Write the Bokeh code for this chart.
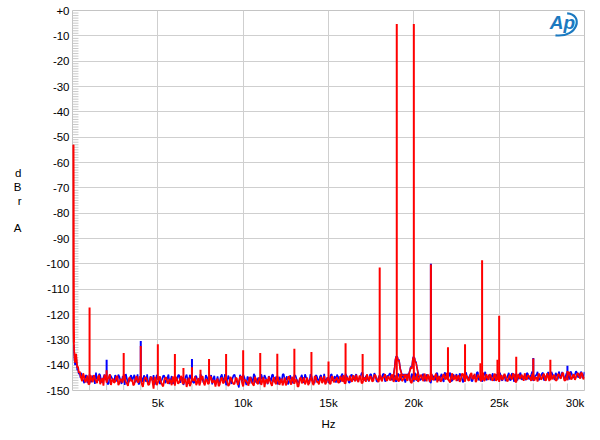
import numpy as np
from bokeh.plotting import figure
from bokeh.models import FixedTicker, Range1d, Label
from bokeh.embed import file_html
from bokeh.resources import INLINE

# ---------------- data ----------------
x_tick_vals = [5000, 10000, 15000, 20000, 25000, 30000]
x_tick_labels = ["5k", "10k", "15k", "20k", "25k", "30k"]
x_minor_vals = [v for v in range(1000, 30000, 1000) if v % 5000 != 0]
y_tick_vals = list(range(-150, 1, 10))
y_tick_labels = ["+0" if v == 0 else str(v) for v in y_tick_vals]
y_minor_vals = [v for v in range(-150, 0) if v % 10 != 0]

# low-frequency rise (Hz, dBr)
lf_freq = [45, 55, 65, 80, 95, 120, 150, 180, 210, 240, 280, 320, 370, 420, 470]
red_lf = [-53, -100, -125, -131, -134, -137, -139, -136, -135.5, -138, -141, -140.5, -143, -142.5, -144]
blue_lf = [-53, -101, -126, -132, -135, -138, -140, -137, -136, -139, -142, -141.5, -143.5, -143, -145]

# noise floor readings, 500 Hz .. 30 kHz (main points) ...
red_floor = [
    -145.0, -143.2, -146.8, -144.1, -147.3, -145.6, -143.9, -146.2,
    -144.6, -147.5, -145.1, -143.8, -146.9, -144.7, -147.8, -145.3,
    -146.4, -144.2, -147.1, -145.8, -143.7, -146.6, -148.2, -144.9,
    -145.7, -147.4, -144.3, -146.8, -145.2, -148.6, -144.8, -146.1,
    -147.6, -144.6, -149.3, -145.4, -146.9, -144.4, -147.7, -145.9,
    -144.9, -147.2, -146.3, -144.5, -148.1, -145.7, -146.8, -144.2,
    -147.4, -145.5, -146.7, -148.3, -144.7, -146.2, -147.9, -145.1,
    -146.6, -144.4, -148.0, -145.8, -147.1, -144.9, -146.4, -148.5,
    -145.3, -147.6, -144.8, -146.9, -145.5, -148.2, -144.6, -146.7,
    -147.3, -145.2, -146.5, -144.3, -148.4, -145.9, -147.0, -144.7,
    -146.8, -148.1, -145.4, -147.5, -144.9, -146.3, -148.7, -145.6,
    -144.5, -147.2, -145.8, -146.9, -144.2, -147.8, -145.3, -146.6,
    -148.0, -145.1, -146.4, -144.6, -147.3, -145.7, -148.3, -144.8,
    -146.2, -147.6, -144.9, -146.8, -145.2, -147.9, -144.4, -146.5,
    -145.6, -147.1, -144.3, -146.7, -145.0, -147.4, -144.7, -146.1,
    -144.8, -146.9, -145.3, -143.9, -147.2, -145.5, -144.2, -146.6,
    -145.1, -143.8, -146.7, -144.5, -147.0, -144.9, -143.6, -146.3,
    -144.7, -146.2, -144.0, -145.8, -143.9, -146.4, -144.6, -145.9,
    -144.3, -146.1, -143.8, -145.6, -144.4, -146.5, -144.1, -145.7,
    -143.6, -146.2, -144.4, -147.1, -143.9, -145.8, -146.6, -144.2,
    -145.5, -143.3, -146.4, -144.7, -142.9, -145.9, -144.1, -146.8,
    -144.3, -146.0, -143.5, -145.6, -144.8, -146.9, -143.2, -145.3,
    -146.3, -144.0, -145.7, -143.4, -146.5, -144.6, -145.9, -143.1,
    -145.2, -146.7, -143.8, -145.0, -144.2, -146.3, -143.6, -145.8,
    -144.1, -146.1, -143.3, -145.4, -146.6, -143.9, -145.1, -144.4,
    -146.4, -143.7, -145.6, -144.0, -146.8, -143.5, -145.3, -144.6,
    -143.2, -145.7, -144.3, -146.2, -143.6, -145.0, -146.5, -143.8,
    -145.4, -143.4, -146.0, -144.5, -142.8, -145.6, -144.1, -145.9,
    -143.7, -145.2, -143.0, -146.1, -144.4, -142.9, -145.5, -143.6,
    -144.8, -143.1, -145.3, -143.5, -144.6,
]
# ... and the readings in between them
red_floor_mid = [
    -146.3, -144.8, -145.9, -147.6, -144.0, -146.7, -145.2, -147.1,
    -143.9, -146.0, -148.1, -144.6, -145.5, -143.6, -146.2, -147.0,
    -144.8, -147.9, -145.4, -146.9, -144.5, -147.3, -145.1, -146.4,
    -148.0, -145.3, -146.6, -144.4, -147.5, -146.0, -145.0, -147.8,
    -145.1, -146.5, -144.7, -147.9, -145.6, -146.8, -148.4, -144.9,
    -147.0, -145.4, -147.9, -146.1, -144.6, -147.3, -145.2, -146.9,
    -145.7, -148.6, -144.9, -147.2, -145.8, -144.5, -146.8, -148.0,
    -144.7, -146.9, -145.5, -147.4, -144.3, -147.0, -145.9, -146.2,
    -148.3, -145.6, -147.1, -144.6, -146.6, -147.7, -145.4, -147.5,
    -145.0, -147.8, -144.8, -147.0, -145.9, -146.4, -148.1, -145.2,
    -147.4, -144.6, -146.9, -145.1, -147.8, -144.8, -146.2, -147.3,
    -146.0, -148.2, -144.7, -147.5, -145.6, -146.5, -148.0, -144.9,
    -146.9, -144.4, -147.7, -145.9, -146.0, -148.5, -145.4, -147.2,
    -144.8, -146.5, -147.9, -145.3, -147.1, -144.5, -146.7, -147.6,
    -144.6, -146.3, -147.6, -145.2, -147.3, -144.4, -146.8, -145.5,
    -146.9, -144.3, -146.5, -147.1, -144.7, -146.2, -145.8, -144.0,
    -146.4, -145.5, -144.2, -147.1, -145.3, -146.6, -145.0, -144.4,
    -146.5, -143.8, -145.3, -146.7, -144.4, -145.0, -143.5, -146.2,
    -145.2, -143.9, -146.6, -144.3, -145.8, -143.6, -146.3, -145.0,
    -145.1, -143.4, -146.6, -144.9, -145.4, -143.3, -145.7, -143.8,
    -146.3, -144.9, -143.6, -146.6, -144.2, -145.6, -143.4, -145.0,
    -146.5, -144.4, -145.3, -143.1, -146.2, -144.7, -145.8, -143.9,
    -144.7, -146.6, -143.5, -145.2, -144.0, -146.1, -143.7, -145.5,
    -143.4, -145.9, -144.5, -146.4, -142.9, -145.5, -144.9, -143.6,
    -145.7, -144.3, -146.2, -143.6, -144.9, -145.9, -143.4, -146.0,
    -144.8, -145.1, -143.3, -146.4, -144.6, -145.2, -143.8, -146.2,
    -145.4, -143.9, -145.0, -143.5, -146.1, -144.8, -143.3, -145.6,
    -144.0, -145.8, -143.2, -146.3, -144.7, -143.9, -146.1, -143.5,
    -145.0, -143.3, -145.9, -144.6, -142.8, -145.3, -144.2, -145.8,
    -143.6, -144.4, -142.9, -145.6,
]
blue_floor = [
    -143.0, -145.9, -144.4, -147.0, -143.6, -146.3, -144.8, -142.9,
    -146.1, -144.0, -146.8, -143.7, -145.4, -147.2, -144.3, -146.0,
    -143.9, -146.5, -144.6, -147.4, -145.0, -143.5, -146.9, -144.7,
    -146.3, -143.8, -145.9, -147.6, -144.2, -146.7, -145.1, -143.6,
    -147.0, -145.3, -143.9, -146.4, -144.8, -147.5, -145.6, -144.1,
    -146.2, -143.7, -145.8, -147.3, -144.5, -146.0, -143.9, -145.4,
    -147.8, -144.6, -146.1, -143.8, -145.7, -147.1, -144.3, -146.5,
    -143.5, -145.9, -147.4, -144.7, -146.3, -143.9, -145.2, -147.7,
    -144.4, -146.6, -143.6, -145.8, -147.9, -144.1, -146.0, -145.3,
    -143.8, -146.4, -148.8, -145.0, -143.7, -146.2, -144.5, -147.3,
    -145.6, -143.4, -146.7, -144.9, -147.5, -145.2, -143.9, -146.1,
    -144.3, -146.5, -143.7, -145.9, -147.2, -144.6, -146.8, -143.5,
    -145.7, -147.6, -144.0, -146.3, -143.8, -145.4, -147.1, -144.9,
    -146.0, -143.6, -145.5, -147.3, -144.2, -146.7, -143.9, -145.8,
    -144.5, -146.4, -143.4, -145.7, -147.0, -143.9, -146.2, -144.3,
    -143.7, -145.8, -144.1, -146.5, -143.4, -145.2, -146.9, -143.8,
    -145.9, -143.5, -146.2, -144.6, -142.9, -145.7, -144.0, -146.4,
    -143.6, -145.5, -144.2, -146.6, -143.9, -145.1, -143.4, -146.0,
    -144.8, -143.2, -145.9, -144.0, -146.3, -143.7, -145.4, -144.5,
    -146.9, -144.1, -145.7, -143.3, -146.5, -144.6, -142.8, -145.9,
    -144.0, -146.3, -143.6, -145.2, -147.1, -144.4, -146.0, -143.1,
    -145.8, -143.4, -146.6, -144.2, -145.5, -142.9, -146.1, -144.7,
    -143.5, -145.6, -144.0, -146.8, -143.3, -145.1, -144.5, -146.2,
    -143.9, -145.4, -142.7, -144.8, -146.5, -143.6, -145.9, -144.3,
    -146.0, -143.2, -145.3, -144.6, -142.8, -145.7, -143.9, -146.3,
    -144.2, -145.8, -143.1, -146.6, -144.4, -145.0, -142.9, -145.5,
    -144.7, -143.0, -145.6, -143.8, -146.2, -144.1, -142.6, -145.3,
    -143.4, -146.0, -144.3, -142.7, -145.4, -143.6, -145.8, -144.0,
    -142.5, -145.1, -143.7, -144.9, -142.8, -145.6, -143.3, -144.6,
    -142.4, -144.9, -143.2, -145.0, -142.7,
]
blue_floor_mid = [
    -145.2, -147.1, -143.9, -145.8, -146.7, -144.1, -147.4, -145.5,
    -143.4, -146.6, -144.9, -145.7, -147.6, -143.8, -145.1, -146.9,
    -145.6, -143.7, -146.1, -144.4, -147.8, -145.3, -146.5, -143.9,
    -144.9, -146.8, -143.6, -147.0, -145.2, -144.0, -146.6, -147.3,
    -144.4, -146.0, -147.7, -143.8, -145.7, -146.3, -144.2, -147.1,
    -145.0, -147.5, -144.3, -146.8, -145.6, -143.9, -147.0, -144.8,
    -146.4, -143.7, -147.3, -145.0, -146.7, -144.4, -145.8, -147.2,
    -144.6, -147.0, -143.9, -146.1, -145.0, -147.6, -144.2, -146.4,
    -147.1, -144.5, -145.9, -143.5, -146.9, -145.3, -147.4, -144.0,
    -145.5, -147.3, -143.8, -146.5, -144.7, -147.9, -145.1, -144.6,
    -146.9, -144.2, -147.0, -145.7, -143.6, -146.3, -144.9, -147.5,
    -145.2, -143.9, -146.7, -144.5, -147.4, -145.8, -143.7, -146.0,
    -144.4, -146.8, -145.3, -147.2, -144.1, -146.5, -145.6, -143.8,
    -147.0, -144.7, -146.3, -143.6, -145.9, -147.1, -144.3, -146.6,
    -143.9, -145.6, -147.2, -144.8, -146.1, -143.5, -145.4, -146.9,
    -144.6, -146.7, -143.3, -145.5, -144.2, -146.8, -143.9, -145.1,
    -144.3, -146.1, -145.0, -143.2, -146.0, -144.5, -145.7, -143.6,
    -145.8, -143.1, -146.2, -144.7, -145.3, -143.6, -146.4, -144.0,
    -143.5, -145.6, -144.2, -146.4, -143.3, -145.9, -144.6, -145.2,
    -145.1, -143.5, -146.1, -144.4, -143.0, -146.2, -144.8, -145.5,
    -143.4, -145.8, -144.5, -146.5, -143.8, -145.0, -143.2, -146.0,
    -144.5, -145.7, -142.8, -145.2, -144.0, -146.4, -143.6, -145.1,
    -146.1, -143.2, -144.9, -145.6, -142.9, -145.4, -143.7, -146.3,
    -144.6, -143.0, -146.0, -144.1, -145.3, -142.6, -145.5, -143.8,
    -144.5, -146.2, -143.6, -145.0, -143.3, -146.1, -144.2, -145.4,
    -143.0, -145.9, -144.6, -143.4, -146.0, -143.7, -145.6, -144.3,
    -145.9, -143.5, -144.8, -142.5, -145.2, -143.9, -146.0, -144.4,
    -142.9, -145.5, -143.7, -145.1, -142.6, -144.7, -143.0, -145.6,
    -143.9, -142.7, -145.3, -143.4, -144.6, -142.4, -145.0, -143.7,
    -143.0, -144.3, -142.6, -144.8,
]

# skirts at the base of the two tones
skirt_freq = [18800, 18870, 18920, 18960, 19040, 19080, 19130, 19200, 19300, 19700,
              19780, 19820, 19880, 19940, 19970, 20040, 20080, 20130, 20180, 20280]
red_skirt = [-144.5, -141.5, -138.0, -136.8, -137.0, -138.5, -138.0, -141.5, -144.0, -144.0,
             -142.0, -140.8, -141.5, -137.8, -137.0, -137.3, -138.8, -139.0, -141.0, -144.3]
blue_skirt = [-144.2, -141.2, -137.7, -136.5, -136.7, -138.2, -137.7, -141.2, -143.7, -143.7,
              -141.7, -140.5, -141.2, -137.5, -136.7, -137.0, -138.5, -138.7, -140.7, -144.0]

# discrete spectral lines (Hz, dBr)
peak_freq = [1000, 2000, 3000, 4000, 5000, 6000, 6500, 7000, 7500, 8000, 9000, 10000,
             11000, 12000, 13000, 14000, 15000, 16000, 17000, 18000, 19000, 20000,
             21000, 22000, 23000, 23900, 24000, 24900, 25000, 26000, 27000, 28000, 29000]
red_peak = [-117.2, -142.0, -135.2, -132.4, -131.7, -135.6, -141.1, -140.8, -141.8, -137.6,
            -135.6, -134.1, -135.2, -135.5, -133.5, -134.8, -138.6, -131.3, -135.6, -101.4,
            -5.3, -5.3, -100.3, -132.9, -131.7, -139.2, -98.6, -137.9, -120.5, -136.7,
            -137.4, -137.9, -142.3]
blue_peak = [-117.4, -137.9, -135.5, -130.5, -131.9, -135.9, -141.5, -137.6, -142.2, -137.9,
             -135.9, -134.4, -135.5, -135.8, -133.8, -135.1, -138.9, -131.6, -135.9, -101.7,
             -5.3, -5.3, -100.0, -133.2, -132.0, -139.5, -98.9, -138.2, -120.8, -137.0,
             -137.2, -138.2, -140.2]
peak_base = -146.0

RED = "#ff0000"
BLUE = "#0000ff"
GRID = "#cfcfcf"
TICK = "#c8c8c8"
LOGO = "#1b79c0"
FONT = "Liberation Sans"
FS = "11.5px"
X0, X1, Y0, Y1 = 0, 30000, -150, 0
YTICK_LEN = 350    # inner minor-tick length on the left edge, in Hz (about 6 px)
XTICK_LEN = 2.8    # inner minor-tick length on the bottom edge, in dB (about 7 px)

p = figure(width=592, height=432, output_backend="svg", toolbar_location=None,
           x_range=Range1d(X0, X1), y_range=Range1d(Y0, Y1),
           min_border_left=72, min_border_right=8, min_border_top=10, min_border_bottom=42)
p.background_fill_color = "white"
p.border_fill_color = "white"
p.outline_line_color = "#c4c4c4"
p.outline_line_width = 1

# x axis
label_pos = x_tick_vals[:-1] + [x_tick_vals[-1] - 550]
p.xaxis.ticker = FixedTicker(ticks=label_pos)
p.xaxis.major_label_overrides = {pos: lab for pos, lab in zip(label_pos, x_tick_labels)}
p.xgrid.ticker = FixedTicker(ticks=x_tick_vals)
p.xaxis.axis_label = "Hz"
# y axis
p.yaxis.ticker = FixedTicker(ticks=y_tick_vals)
p.yaxis.major_label_overrides = {v: lab for v, lab in zip(y_tick_vals, y_tick_labels)}
p.ygrid.ticker = FixedTicker(ticks=y_tick_vals)
p.yaxis.axis_label = "d\nB\nr\n\nA"
p.yaxis.axis_label_orientation = "horizontal"

for ax in (p.xaxis[0], p.yaxis[0]):
    ax.axis_line_color = None
    ax.major_tick_line_color = None
    ax.minor_tick_line_color = None
    ax.major_tick_in = 0
    ax.major_tick_out = 0
    ax.minor_tick_out = 0
    ax.major_label_text_font = FONT
    ax.major_label_text_font_size = FS
    ax.major_label_text_color = "#000000"
    ax.axis_label_text_font = FONT
    ax.axis_label_text_font_size = FS
    ax.axis_label_text_font_style = "normal"
    ax.axis_label_text_color = "#000000"
p.xaxis.major_label_standoff = 6
p.xaxis.axis_label_standoff = 6
p.yaxis.major_label_standoff = 3
p.yaxis.axis_label_standoff = 22
p.yaxis.axis_label_text_line_height = 1.15

p.xgrid.grid_line_color = GRID
p.ygrid.grid_line_color = GRID

# inner minor ticks drawn beneath the traces
p.segment(x0=[X0] * len(y_minor_vals), y0=y_minor_vals, x1=[X0 + YTICK_LEN] * len(y_minor_vals),
          y1=y_minor_vals, line_color=TICK, line_width=1)
p.segment(x0=x_minor_vals, y0=[Y0] * len(x_minor_vals), x1=x_minor_vals,
          y1=[Y0 + XTICK_LEN] * len(x_minor_vals), line_color=TICK, line_width=1)


def merged(main, mid):
    xs = list(np.linspace(500, 30000, len(main))) + list(np.linspace(562.5, 29937.5, len(mid)))
    ys = list(main) + list(mid)
    order = np.argsort(xs)
    return [xs[i] for i in order], [ys[i] for i in order]


bx, by = merged(blue_floor, blue_floor_mid)
rx, ry = merged(red_floor, red_floor_mid)

# blue only shows where it rises above red: draw the blue line tips above the red ones
tip_idx = [i for i in range(len(peak_freq)) if blue_peak[i] > red_peak[i]]
tip_x = [peak_freq[i] for i in tip_idx]
tip_lo = [min(red_peak[i], peak_base) if red_peak[i] < peak_base else peak_base for i in tip_idx]
tip_hi = [blue_peak[i] for i in tip_idx]

p.line(lf_freq[3:] + bx, blue_lf[3:] + by, line_color=BLUE, line_width=1.6)
p.line(skirt_freq, blue_skirt, line_color=BLUE, line_width=1.5)
p.segment(x0=tip_x, y0=tip_lo, x1=tip_x, y1=tip_hi, line_color=BLUE, line_width=2.0)

p.line(lf_freq + rx, red_lf + ry, line_color=RED, line_width=1.8)
p.line(lf_freq[:4], red_lf[:4], line_color=RED, line_width=2.2)
p.line(skirt_freq, red_skirt, line_color=RED, line_width=1.6)
p.segment(x0=peak_freq, y0=[peak_base] * len(peak_freq), x1=peak_freq, y1=red_peak,
          line_color=RED, line_width=2.0)

# Ap logo
p.add_layout(Label(x=28710, y=-4.9, text="Ap", text_align="center", text_baseline="middle",
                   text_font=FONT, text_font_size="19px", text_font_style="bold italic",
                   text_color=LOGO))
p.bezier(x0=[28985], y0=[-1.1], x1=[28300], y1=[-9.8], cx0=[29940], cy0=[-1.5],
         cx1=[29650], cy1=[-10.8], line_color=LOGO, line_width=2.2)

open("out.html", "w").write(file_html(p, INLINE))
